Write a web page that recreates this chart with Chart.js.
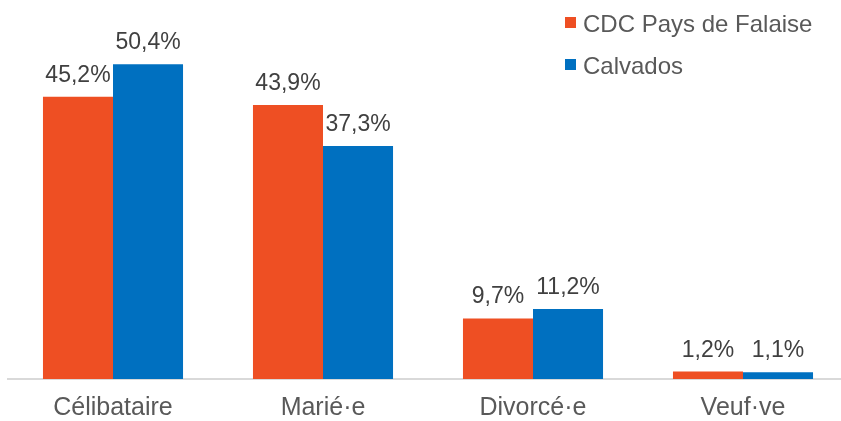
<!DOCTYPE html>
<html>
<head>
<meta charset="utf-8">
<script src="https://cdn.jsdelivr.net/npm/chart.js@4/dist/chart.umd.min.js"></script>
<style>
html,body{margin:0;padding:0;background:#fff;overflow:hidden;}
#wrap{position:relative;width:850px;height:421px;}
</style>
</head>
<body>
<div id="wrap"><canvas id="c"></canvas></div>
<script>
const categories = ["Célibataire", "Marié·e", "Divorcé·e", "Veuf·ve"];
const seriesNames = ["CDC Pays de Falaise", "Calvados"];
const falaiseValues = [45.2, 43.9, 9.7, 1.2];
const calvadosValues = [50.4, 37.3, 11.2, 1.1];
const seriesColors = ["#EE4F23", "#0070C0"];

const FONT = "'Liberation Sans', Arial, sans-serif";

const labelPlugin = {
  id: 'valueLabels',
  afterDatasetsDraw(chart) {
    const ctx = chart.ctx;
    ctx.save();
    ctx.font = "23px " + FONT;
    ctx.fillStyle = "#404040";
    ctx.textAlign = "center";
    ctx.textBaseline = "alphabetic";
    chart.data.datasets.forEach((ds, i) => {
      const meta = chart.getDatasetMeta(i);
      meta.data.forEach((bar, j) => {
        const txt = ds.data[j].toFixed(1).replace('.', ',') + '%';
        ctx.fillText(txt, bar.x, bar.y - 15);
      });
    });
    ctx.restore();
  }
};

const legendPlugin = {
  id: 'customLegend',
  afterDraw(chart) {
    const ctx = chart.ctx;
    ctx.save();
    ctx.font = "24px " + FONT;
    ctx.textBaseline = "alphabetic";
    ctx.textAlign = "left";
    chart.data.datasets.forEach((ds, i) => {
      const y = 32 + i * 42;
      ctx.fillStyle = ds.backgroundColor;
      ctx.fillRect(565, y - 15, 11, 11);
      ctx.fillStyle = "#595959";
      ctx.fillText(ds.label, 583, y);
    });
    ctx.restore();
  }
};

new Chart(document.getElementById('c'), {
  type: 'bar',
  data: {
    labels: categories,
    datasets: [
      { label: seriesNames[0], data: falaiseValues, backgroundColor: seriesColors[0] },
      { label: seriesNames[1], data: calvadosValues, backgroundColor: seriesColors[1] }
    ]
  },
  options: {
    responsive: true,
    maintainAspectRatio: false,
    animation: false,
    devicePixelRatio: 1,
    layout: { padding: { left: 8, right: 2, top: 0, bottom: 0 } },
    plugins: { legend: { display: false }, tooltip: { enabled: false } },
    datasets: { bar: { categoryPercentage: 0.667, barPercentage: 1.0 } },
    scales: {
      x: {
        grid: { display: false, drawTicks: false },
        border: { display: true, color: "#D9D9D9", width: 2 },
        ticks: { font: { family: FONT, size: 25 }, color: "#595959", padding: 14 },
        afterFit(scale) { scale.height = 42; }
      },
      y: {
        display: false,
        min: 0,
        max: 60.7
      }
    }
  },
  plugins: [labelPlugin, legendPlugin]
});
</script>
</body>
</html>
